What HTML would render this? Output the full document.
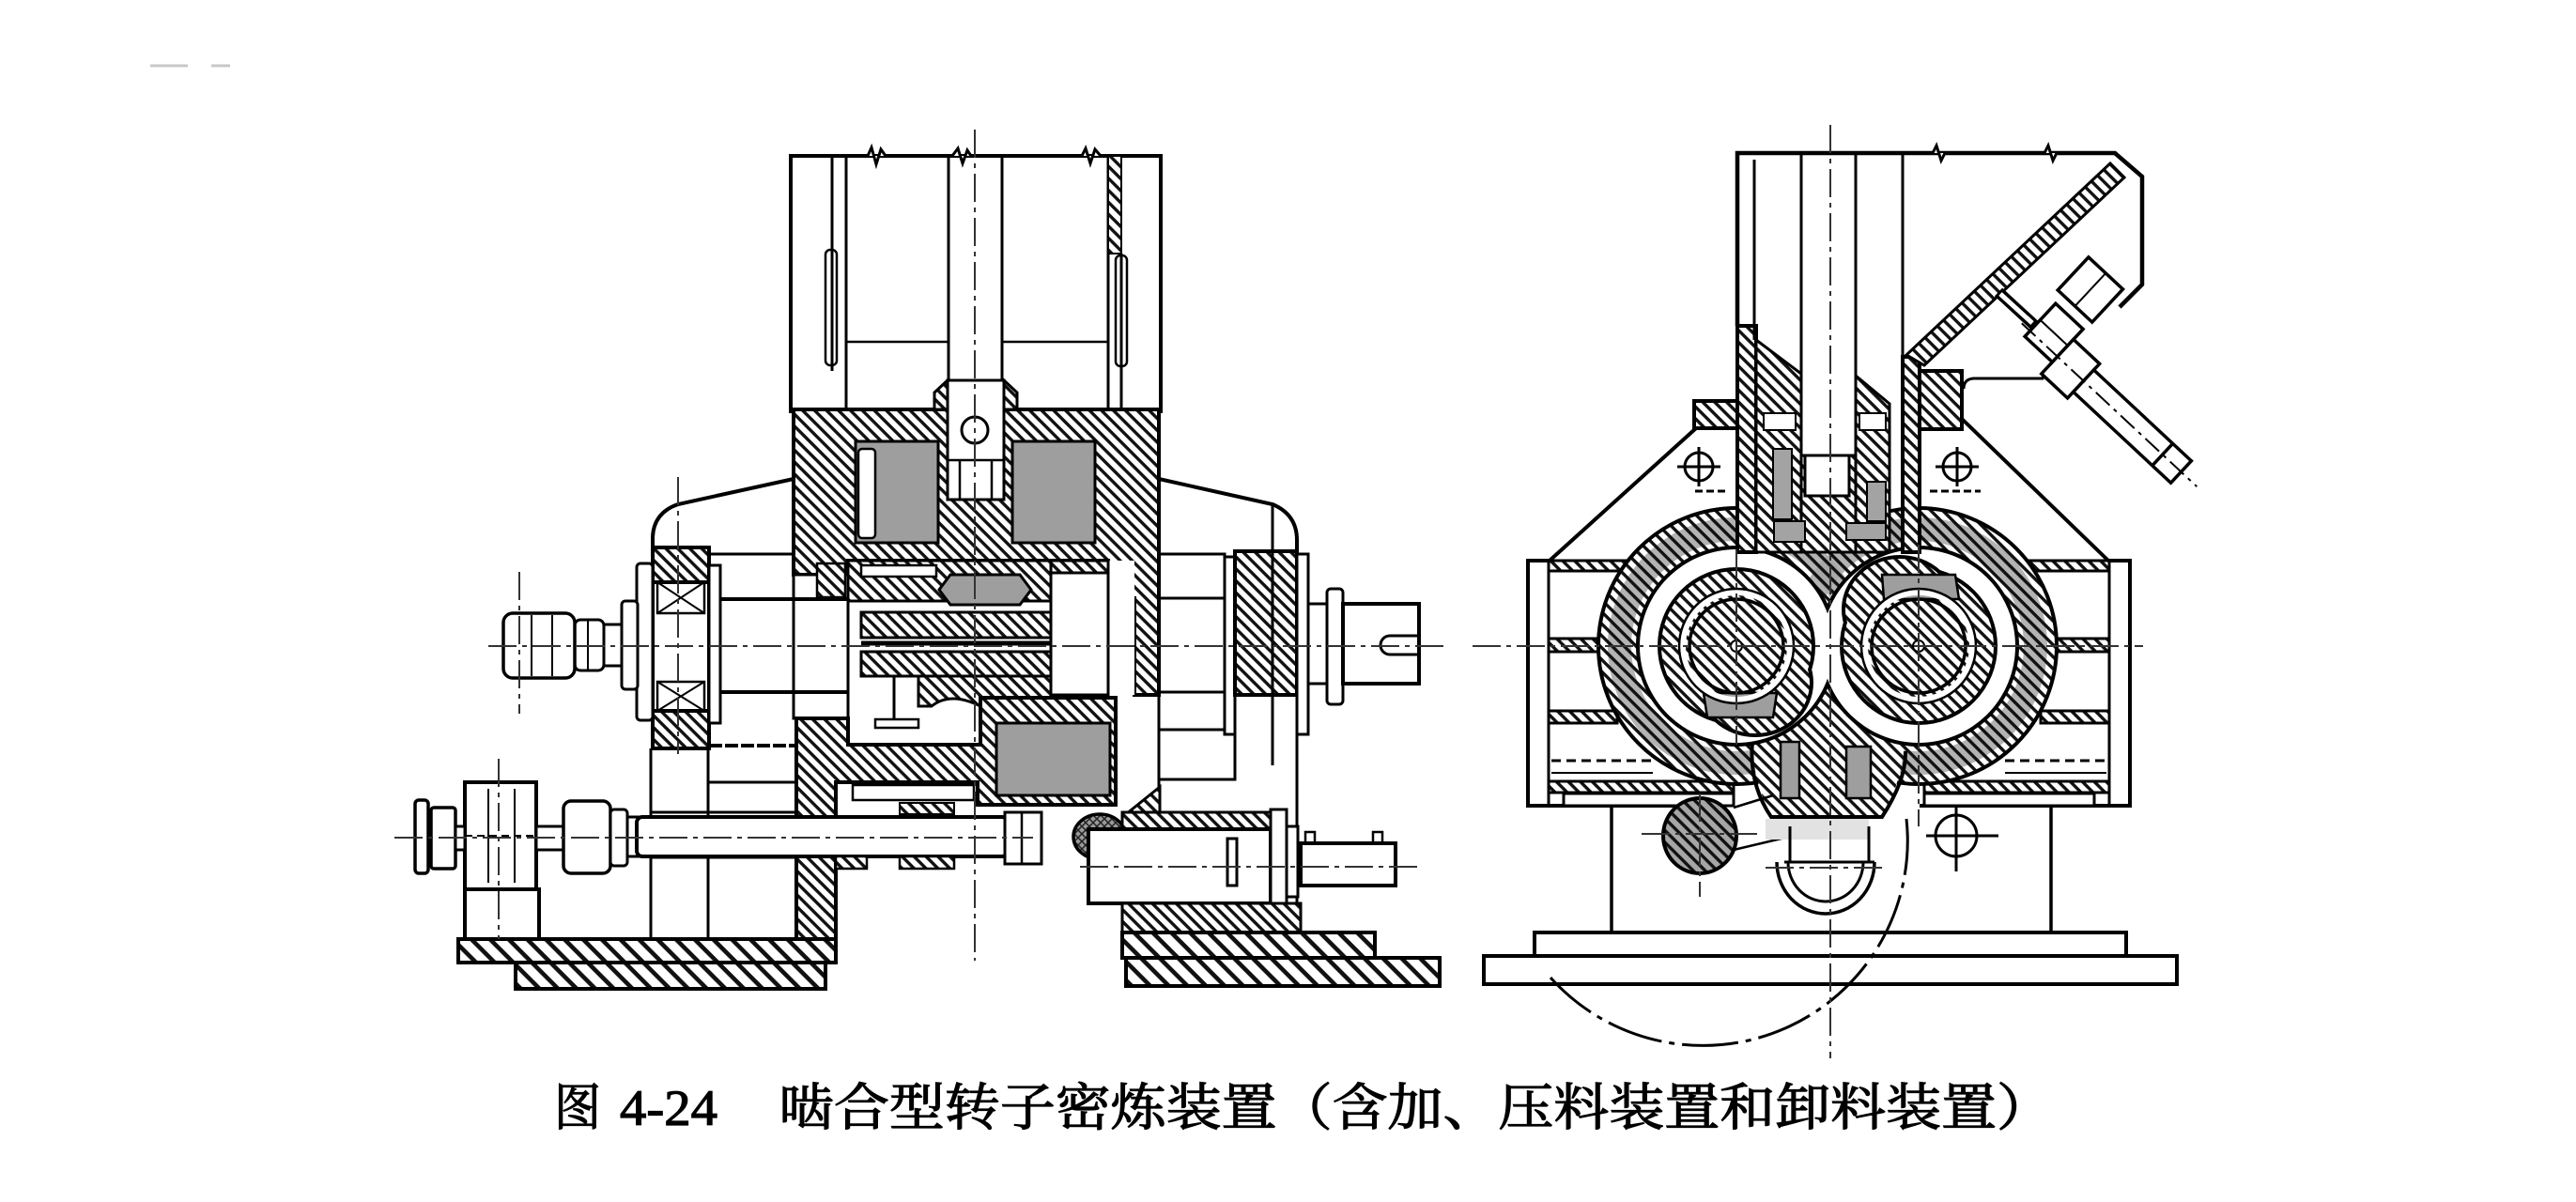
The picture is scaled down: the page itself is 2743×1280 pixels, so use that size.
<!DOCTYPE html>
<html><head><meta charset="utf-8">
<style>html,body{margin:0;padding:0;background:#fff}svg{display:block}</style>
</head><body>
<svg width="2743" height="1280" viewBox="0 0 2743 1280" xmlns="http://www.w3.org/2000/svg">
<defs>
 <pattern id="h" width="9" height="9" patternUnits="userSpaceOnUse" patternTransform="rotate(45)">
  <rect width="9" height="9" fill="#fff"/><rect width="9" height="3.4" fill="#111"/>
 </pattern>
 <pattern id="hb" width="14" height="14" patternUnits="userSpaceOnUse" patternTransform="rotate(45)">
  <rect width="14" height="14" fill="#fff"/><rect width="14" height="4.6" fill="#111"/>
 </pattern>
 <pattern id="hg" width="9" height="9" patternUnits="userSpaceOnUse" patternTransform="rotate(45)">
  <rect width="9" height="9" fill="#a6a6a6"/><rect width="9" height="3.4" fill="#111"/>
 </pattern>
 <pattern id="xk" width="8" height="8" patternUnits="userSpaceOnUse">
  <rect width="8" height="8" fill="#9a9a9a"/><path d="M0,0 L8,8 M8,0 L0,8" stroke="#222" stroke-width="1.5"/>
 </pattern>
</defs>
<rect width="2743" height="1280" fill="#fff"/>
<line x1="160" y1="70" x2="200" y2="70" stroke="#c8c8c8" stroke-width="3"/>
<line x1="225" y1="70" x2="245" y2="70" stroke="#c8c8c8" stroke-width="3"/>

<!-- ================= LEFT DRAWING ================= -->
<g stroke="#000" stroke-width="4" fill="none">
 <path d="M845,510 L722,537 Q696,546 695,572 L695,585"/>
 <path d="M1234,510 L1355,537 Q1381,548 1381,575 L1381,590"/>
 <rect x="842" y="166" width="394" height="272" fill="#fff"/>
 <path d="M914,166 L924,166 L928,157 L933,175 L938,159 L943,166" stroke-width="3" fill="#fff"/>
 <path d="M1014,166 L1020,158 L1025,174 L1030,160 L1034,166" stroke-width="3" fill="#fff"/>
 <path d="M1144,166 L1152,166 L1156,158 L1161,174 L1166,159 L1172,166" stroke-width="3" fill="#fff"/>
 <line x1="886" y1="166" x2="886" y2="395" stroke-width="3"/>
 <line x1="901" y1="166" x2="901" y2="438" stroke-width="3"/>
 <rect x="879" y="266" width="12" height="123" rx="5" stroke-width="2.5"/>
 <line x1="1010" y1="166" x2="1010" y2="405" stroke-width="3"/>
 <line x1="1067" y1="166" x2="1067" y2="405" stroke-width="3"/>
 <line x1="1180" y1="166" x2="1180" y2="438" stroke-width="3"/>
 <line x1="1194" y1="270" x2="1194" y2="438" stroke-width="3"/>
 <rect x="1180" y="166" width="14" height="104" fill="url(#h)" stroke-width="2"/>
 <rect x="1188" y="272" width="12" height="118" rx="5" stroke-width="2.5"/>
 <line x1="901" y1="364" x2="1010" y2="364" stroke-width="2.5"/>
 <line x1="1067" y1="364" x2="1180" y2="364" stroke-width="2.5"/>

 <path fill="url(#h)" d="M845,436 H1234 V740 H1208 V637 H1180 V597 H903 V612 H845 Z"/>
 <rect x="911" y="470" width="88" height="108" fill="#9e9e9e" stroke-width="3"/>
 <rect x="914" y="478" width="18" height="95" rx="4" fill="#fff" stroke-width="2.5"/>
 <rect x="1078" y="470" width="88" height="108" fill="#9e9e9e" stroke-width="3"/>
 <rect x="1009" y="405" width="60" height="127" fill="#fff" stroke-width="3"/>
 <circle cx="1038" cy="458" r="14" stroke-width="3"/>
 <path d="M1022,490 V532 M1056,490 V532 M1009,490 H1069" stroke-width="2.5"/>
 <path fill="url(#h)" d="M995,418 L1009,405 V436 H995 Z M1069,405 L1083,418 V436 H1069 Z" stroke-width="3"/>

 <rect x="845" y="612" width="58" height="153" fill="#fff" stroke-width="3"/>
 <rect x="870" y="600" width="30" height="36" fill="url(#h)" stroke-width="2.5"/>

 <rect x="903" y="597" width="305" height="143" fill="#fff" stroke="none"/>
 <rect x="903" y="597" width="216" height="43" fill="url(#h)" stroke-width="3"/>
 <rect x="1119" y="597" width="61" height="13" fill="url(#h)" stroke-width="3"/>
 <rect x="917" y="602" width="80" height="12" fill="#fff" stroke-width="2.5"/>
 <path d="M1012,612 H1086 L1098,628 L1086,644 H1012 L1000,628 Z" fill="#9e9e9e" stroke-width="3"/>
 <rect x="1119" y="610" width="61" height="130" fill="#fff" stroke-width="3"/>
 <rect x="917" y="652" width="202" height="27" fill="url(#h)" stroke-width="3"/>
 <line x1="917" y1="685" x2="1119" y2="685" stroke-width="5"/>
 <rect x="917" y="694" width="202" height="26" fill="url(#h)" stroke-width="3"/>
 <path d="M978,720 H1119 V752 H1044 Q1012,736 992,752 H978 Z" fill="url(#h)" stroke-width="3"/>
 <line x1="952" y1="720" x2="952" y2="767" stroke-width="3"/>
 <rect x="932" y="766" width="46" height="9" stroke-width="2.5"/>
 <line x1="903" y1="597" x2="903" y2="793" stroke-width="3"/>
 <line x1="1208" y1="740" x2="1234" y2="740" stroke-width="3"/>

 <path fill="url(#h)" d="M848,765 H903 V793 H1044 V743 H1188 V857 H1041 V833 H890 V1000 H848 Z"/>
 <rect x="1061" y="770" width="121" height="77" fill="#9e9e9e" stroke-width="3"/>
 <rect x="908" y="836" width="129" height="16" stroke-width="2.5"/>
 <rect x="958" y="855" width="58" height="12" fill="url(#h)" stroke-width="2"/>
 <line x1="1234" y1="740" x2="1234" y2="838" stroke-width="3"/>
 <polygon points="1199,867 1235,838 1235,867" fill="url(#h)" stroke-width="3"/>

 <rect x="695" y="583" width="60" height="214" fill="#fff"/>
 <rect x="695" y="583" width="60" height="37" fill="url(#h)"/>
 <rect x="695" y="757" width="60" height="40" fill="url(#h)"/>
 <rect x="700" y="620" width="50" height="33" stroke-width="2.5"/>
 <path d="M700,620 L750,653 M750,620 L700,653" stroke-width="2"/>
 <rect x="700" y="726" width="50" height="31" stroke-width="2.5"/>
 <path d="M700,726 L750,757 M750,726 L700,757" stroke-width="2"/>
 <rect x="755" y="602" width="12" height="168" fill="#fff" stroke-width="3"/>
 <rect x="678" y="600" width="17" height="167" rx="4" fill="#fff" stroke-width="3"/>
 <line x1="767" y1="638" x2="903" y2="638"/>
 <line x1="767" y1="737" x2="903" y2="737"/>
 <line x1="755" y1="590" x2="845" y2="590" stroke-width="3"/>
 <line x1="755" y1="794" x2="848" y2="794" stroke-width="4" stroke-dasharray="14 3"/>
 <line x1="754" y1="833" x2="848" y2="833" stroke-width="3"/>
 <line x1="693" y1="865" x2="848" y2="865" stroke-width="3"/>
 <line x1="693" y1="913" x2="848" y2="913" stroke-width="3"/>
 <line x1="693" y1="797" x2="693" y2="1000" stroke-width="3"/>
 <line x1="754" y1="797" x2="754" y2="1000" stroke-width="3"/>
 <rect x="662" y="640" width="17" height="94" rx="4" fill="#fff" stroke-width="3"/>
 <rect x="643" y="665" width="19" height="44" fill="#fff" stroke-width="3"/>
 <rect x="612" y="660" width="31" height="54" rx="6" fill="#fff" stroke-width="3"/>
 <line x1="626" y1="660" x2="626" y2="714" stroke-width="2"/>
 <rect x="536" y="653" width="76" height="69" rx="10" fill="#fff" stroke-width="3.5"/>
 <line x1="566" y1="655" x2="566" y2="720" stroke-width="2"/>
 <line x1="588" y1="655" x2="588" y2="720" stroke-width="2"/>

 <rect x="1234" y="590" width="70" height="47" stroke-width="3"/>
 <line x1="1234" y1="737" x2="1304" y2="737" stroke-width="3"/>
 <line x1="1234" y1="777" x2="1304" y2="777" stroke-width="3"/>
 <path d="M1234,830 H1315 V782" stroke-width="3"/>
 <rect x="1304" y="593" width="11" height="189" fill="#fff" stroke-width="3"/>
 <rect x="1315" y="587" width="66" height="153" fill="url(#h)"/>
 <rect x="1381" y="590" width="12" height="192" fill="#fff" stroke-width="3"/>
 <rect x="1393" y="643" width="20" height="85" fill="#fff" stroke-width="3"/>
 <rect x="1413" y="627" width="17" height="123" rx="4" fill="#fff" stroke-width="3"/>
 <rect x="1430" y="643" width="81" height="85" fill="#fff"/>
 <path d="M1511,677 H1480 A10,10 0 0 0 1480,697 H1511" stroke-width="3"/>
 <line x1="1355" y1="537" x2="1355" y2="815" stroke-width="3"/>
 <line x1="1381" y1="782" x2="1381" y2="993" stroke-width="3"/>

 <rect x="495" y="947" width="79" height="53" fill="#fff"/>
 <rect x="495" y="833" width="76" height="114" fill="#fff"/>
 <line x1="495" y1="890" x2="571" y2="890" stroke-width="2" stroke-dasharray="8 5"/>
 <line x1="520" y1="840" x2="520" y2="940" stroke-width="2"/>
 <line x1="548" y1="840" x2="548" y2="940" stroke-width="2"/>
 <rect x="442" y="852" width="14" height="78" rx="4" fill="#fff" stroke-width="3.5"/>
 <rect x="459" y="860" width="26" height="65" rx="3" fill="#fff" stroke-width="3.5"/>
 <rect x="485" y="880" width="10" height="25" fill="#fff" stroke-width="3"/>
 <rect x="571" y="880" width="29" height="25" fill="#fff" stroke-width="3"/>
 <rect x="600" y="853" width="50" height="77" rx="8" fill="#fff" stroke-width="3.5"/>
 <rect x="650" y="862" width="18" height="60" rx="4" fill="#fff" stroke-width="3"/>
 <rect x="668" y="870" width="12" height="42" fill="#fff" stroke-width="3"/>
 <rect x="678" y="870" width="395" height="42" rx="6" fill="#fff"/>
 <rect x="890" y="912" width="33" height="13" fill="url(#h)" stroke-width="2.5"/>
 <rect x="958" y="912" width="58" height="13" fill="url(#h)" stroke-width="2.5"/>
 <rect x="1070" y="865" width="39" height="55" fill="#fff" stroke-width="3"/>
 <line x1="1088" y1="865" x2="1088" y2="920" stroke-width="2.5"/>
 <ellipse cx="1171" cy="891" rx="28" ry="24" fill="url(#xk)" stroke-width="3.5"/>
 <rect x="1195" y="865" width="158" height="18" fill="url(#h)" stroke-width="3"/>
 <rect x="1159" y="883" width="194" height="79" fill="#fff"/>
 <rect x="1307" y="893" width="10" height="50" fill="#fff" stroke-width="3"/>
 <rect x="1353" y="862" width="17" height="103" fill="#fff" stroke-width="3"/>
 <rect x="1370" y="880" width="12" height="75" fill="#fff" stroke-width="3"/>
 <rect x="1385" y="898" width="101" height="45" fill="#fff"/>
 <rect x="1390" y="886" width="10" height="12" stroke-width="2.5"/>
 <rect x="1462" y="886" width="10" height="12" stroke-width="2.5"/>
 <rect x="1195" y="962" width="190" height="31" fill="url(#h)" stroke-width="3"/>
 <rect x="488" y="1000" width="402" height="25" fill="url(#hb)"/>
 <rect x="549" y="1025" width="330" height="28" fill="url(#hb)"/>
 <rect x="1195" y="993" width="269" height="27" fill="url(#hb)"/>
 <rect x="1199" y="1020" width="334" height="30" fill="url(#hb)"/>
</g>
<g stroke="#333" stroke-width="2" fill="none" stroke-dasharray="30 6 5 6">
 <line x1="1038" y1="138" x2="1038" y2="1023"/>
 <line x1="520" y1="688" x2="1540" y2="688"/>
 <line x1="553" y1="609" x2="553" y2="760"/>
 <line x1="722" y1="508" x2="722" y2="803"/>
 <line x1="420" y1="892" x2="1100" y2="892"/>
 <line x1="531" y1="808" x2="531" y2="1000"/>
 <line x1="1150" y1="923" x2="1515" y2="923"/>
</g>

<!-- ================= RIGHT DRAWING ================= -->
<g stroke="#000" stroke-width="4" fill="none">
 <line x1="1716" y1="858" x2="1716" y2="993" stroke-width="3.5"/>
 <line x1="2184" y1="858" x2="2184" y2="993" stroke-width="3.5"/>
 <rect x="1634" y="993" width="630" height="25" fill="#fff"/>
 <rect x="1580" y="1018" width="738" height="30" fill="#fff"/>
 <path d="M1651,597 H1627 V858 H1782"/>
 <line x1="1649" y1="597" x2="1649" y2="858" stroke-width="3"/>
 <path d="M2244,597 H2268 V858 H2044"/>
 <line x1="2246" y1="597" x2="2246" y2="858" stroke-width="3"/>
 <rect x="1649" y="597" width="96" height="11" fill="url(#h)" stroke-width="3"/>
 <rect x="1649" y="680" width="63" height="14" fill="url(#h)" stroke-width="3"/>
 <rect x="1649" y="757" width="73" height="13" fill="url(#h)" stroke-width="3"/>
 <rect x="1649" y="832" width="197" height="12" fill="url(#h)" stroke-width="3"/>
 <rect x="1665" y="845" width="181" height="13" fill="#fff" stroke-width="3"/>
 <rect x="2150" y="597" width="96" height="11" fill="url(#h)" stroke-width="3"/>
 <rect x="2183" y="680" width="63" height="14" fill="url(#h)" stroke-width="3"/>
 <rect x="2173" y="757" width="73" height="13" fill="url(#h)" stroke-width="3"/>
 <rect x="2049" y="832" width="197" height="12" fill="url(#h)" stroke-width="3"/>
 <rect x="2049" y="845" width="181" height="13" fill="#fff" stroke-width="3"/>
 <g stroke-width="3" stroke-dasharray="10 6">
  <line x1="1652" y1="810" x2="1760" y2="810"/>
  <line x1="2135" y1="810" x2="2243" y2="810"/>
 </g>
 <line x1="1652" y1="823" x2="1760" y2="823" stroke-width="2"/>
 <line x1="2135" y1="823" x2="2243" y2="823" stroke-width="2"/>
 <line x1="1806" y1="456" x2="1650" y2="597"/>
 <line x1="2089" y1="446" x2="2245" y2="597"/>

 <circle cx="1849" cy="688" r="145" stroke-width="8"/>
 <circle cx="2043" cy="688" r="145" stroke-width="8"/>
 <path fill="url(#h)" stroke="none" d="M1704,688 a145,145 0 1,0 290,0 a145,145 0 1,0 -290,0 Z M1898,688 a145,145 0 1,0 290,0 a145,145 0 1,0 -290,0 Z"/>
 <path fill="url(#hg)" stroke="none" fill-rule="evenodd" opacity="0.85" d="M1712,688 a137,137 0 1,0 274,0 a137,137 0 1,0 -274,0 Z M1737,688 a112,112 0 1,0 224,0 a112,112 0 1,0 -224,0 Z"/>
 <path fill="url(#hg)" stroke="none" fill-rule="evenodd" opacity="0.85" d="M1906,688 a137,137 0 1,0 274,0 a137,137 0 1,0 -274,0 Z M1931,688 a112,112 0 1,0 224,0 a112,112 0 1,0 -224,0 Z"/>

 <path fill="url(#h)" stroke="none" d="M1866,740 Q1860,820 1886,870 H2004 Q2032,825 2030,740 Z"/>
 <path d="M1866,790 Q1862,835 1886,870 H2004 Q2030,830 2029,800"/>
 <rect x="1896" y="790" width="20" height="60" fill="#9e9e9e" stroke-width="2.5"/>
 <rect x="1966" y="795" width="26" height="55" fill="#9e9e9e" stroke-width="2.5"/>

 <circle cx="1849" cy="688" r="103" stroke-width="8"/>
 <circle cx="2043" cy="688" r="103" stroke-width="8"/>
 <path fill="#fff" stroke="none" d="M1746,688 a103,103 0 1,0 206,0 a103,103 0 1,0 -206,0 Z M1940,688 a103,103 0 1,0 206,0 a103,103 0 1,0 -206,0 Z"/>

 <circle cx="1849" cy="688" r="80" stroke-width="8"/>
 <ellipse cx="1869" cy="727" rx="58" ry="54" stroke-width="8"/>
 <circle cx="1849" cy="688" r="80" fill="url(#h)" stroke="none"/>
 <ellipse cx="1869" cy="727" rx="58" ry="54" fill="url(#h)" stroke="none"/>
 <path d="M1814,738 H1892 L1888,764 H1818 Z" fill="#9e9e9e" stroke-width="2.5"/>
 <circle cx="2043" cy="688" r="80" stroke-width="8"/>
 <ellipse cx="2023" cy="649" rx="58" ry="54" stroke-width="8"/>
 <circle cx="2043" cy="688" r="80" fill="url(#h)" stroke="none"/>
 <ellipse cx="2023" cy="649" rx="58" ry="54" fill="url(#h)" stroke="none"/>
 <path d="M2004,612 H2082 L2086,638 H2006 Z" fill="#9e9e9e" stroke-width="2.5"/>
 <circle cx="1849" cy="688" r="57" stroke="#fff" stroke-width="6"/>
 <circle cx="1849" cy="688" r="50" fill="url(#h)" stroke-width="3.5"/>
 <circle cx="1849" cy="688" r="61" stroke-width="2.5"/>
 <circle cx="2043" cy="688" r="57" stroke="#fff" stroke-width="6"/>
 <circle cx="2043" cy="688" r="50" fill="url(#h)" stroke-width="3.5"/>
 <circle cx="2043" cy="688" r="61" stroke-width="2.5"/>
 <circle cx="1849" cy="688" r="6" fill="#fff" stroke-width="2"/>
 <circle cx="2043" cy="688" r="6" fill="#fff" stroke-width="2"/>

 <rect x="1850" y="347" width="20" height="241" fill="url(#h)"/>
 <path d="M1870,362 L1918,398 V588 H1870 Z" fill="url(#h)" stroke-width="3"/>
 <rect x="1918" y="485" width="58" height="103" fill="url(#h)" stroke-width="3"/>
 <rect x="1922" y="485" width="47" height="43" fill="#fff" stroke-width="3"/>
 <path d="M1976,400 L2012,430 V588 H1976 Z" fill="url(#h)" stroke-width="3"/>
 <rect x="2026" y="380" width="18" height="208" fill="url(#h)"/>
 <rect x="1878" y="440" width="34" height="18" fill="#fff" stroke-width="2"/>
 <rect x="1980" y="440" width="28" height="18" fill="#fff" stroke-width="2"/>
 <rect x="1888" y="478" width="20" height="75" fill="#a3a3a3" stroke-width="2"/>
 <rect x="1889" y="555" width="33" height="22" fill="#a3a3a3" stroke-width="2"/>
 <rect x="1988" y="513" width="20" height="42" fill="#a3a3a3" stroke-width="2"/>
 <rect x="1966" y="557" width="42" height="18" fill="#a3a3a3" stroke-width="2"/>
 <rect x="1804" y="427" width="46" height="29" fill="url(#h)"/>
 <rect x="2044" y="395" width="45" height="62" fill="url(#h)"/>

 <path d="M1850,347 V163 H2252 L2281,188 V303 L2257,327" stroke-width="4.5"/>
 <line x1="1868" y1="170" x2="1868" y2="362" stroke-width="3"/>
 <line x1="1918" y1="163" x2="1918" y2="485" stroke-width="3"/>
 <line x1="1976" y1="163" x2="1976" y2="485" stroke-width="3"/>
 <line x1="2026" y1="163" x2="2026" y2="380" stroke-width="3"/>
 <path d="M2058,163 L2062,155 L2067,171 L2071,163" stroke-width="3" fill="#fff"/>
 <path d="M2177,163 L2181,155 L2186,171 L2190,163" stroke-width="3" fill="#fff"/>
 <path d="M2177,394 L2175,403 H2101 Q2091,404 2091,414" stroke-width="3"/>
 <polygon points="2030,378 2247,174 2262,189 2049,389" fill="url(#h)" stroke-width="3"/>
 <line x1="2128" y1="311" x2="2166" y2="346" stroke-width="12"/>
 <line x1="2130" y1="313" x2="2164" y2="344" stroke="#fff" stroke-width="5"/>
 <g transform="translate(2204,392) rotate(43)" stroke-width="3.5">
  <rect x="-66" y="-100" width="50" height="48" fill="#fff"/>
  <line x1="-41" y1="-100" x2="-41" y2="-52" stroke-width="2"/>
  <rect x="-58" y="-40" width="40" height="48" fill="#fff"/>
  <line x1="-58" y1="-16" x2="-18" y2="-16" stroke-width="2"/>
  <rect x="-18" y="-25" width="38" height="50" fill="#fff"/>
  <rect x="20" y="-16" width="142" height="32" fill="#fff"/>
  <line x1="135" y1="-16" x2="135" y2="16"/>
  <line x1="-70" y1="0" x2="185" y2="0" stroke-width="2" stroke-dasharray="20 6 4 6"/>
 </g>

 <ellipse cx="1810" cy="890" rx="39" ry="40" fill="url(#hg)"/>
 <path d="M1846,860 L1888,847 M1846,905 L1935,884" stroke-width="2.5"/>
 <rect x="1880" y="872" width="110" height="22" fill="#e2e2e2" stroke="none"/>
 <path d="M1906,880 V918 M1990,880 V918 M1900,918 H1996" stroke-width="3"/>
 <path d="M1892,918 A52,55 0 0 0 1996,918" stroke-width="3.5"/>
 <path d="M1904,918 A40,42 0 0 0 1984,918" stroke-width="3"/>
 <path d="M2030,872 A218,218 0 0 1 1651,1041" stroke-width="3" stroke-dasharray="60 8 6 8"/>
</g>
<g stroke="#333" stroke-width="2" fill="none" stroke-dasharray="30 6 5 6">
 <line x1="1949" y1="133" x2="1949" y2="1127"/>
 <line x1="1568" y1="688" x2="2282" y2="688"/>
 <line x1="1849" y1="585" x2="1849" y2="793"/>
 <line x1="2043" y1="580" x2="2043" y2="880"/>
 <line x1="1748" y1="888" x2="1871" y2="888"/>
 <line x1="1810" y1="845" x2="1810" y2="955"/>
 <line x1="1880" y1="924" x2="2010" y2="924"/>
</g>
<g stroke="#000" stroke-width="3" fill="none">
 <circle cx="1809" cy="497" r="15"/>
 <path d="M1786,497 H1832 M1809,476 V518"/>
 <circle cx="2084" cy="497" r="15"/>
 <path d="M2061,497 H2107 M2084,476 V518"/>
 <circle cx="2083" cy="890" r="22"/>
 <path d="M2051,890 H2128 M2083,857 V928"/>
 <path d="M1805,523 H1840 M2055,523 H2109" stroke-dasharray="8 4"/>
</g>

<!-- caption -->
<g fill="#000" stroke="#000" stroke-width="1.2" font-size="54">
 <text x="590" y="1198" font-family="'Liberation Serif','Noto Serif CJK SC',serif" textLength="50" lengthAdjust="spacingAndGlyphs">图</text>
 <text x="660" y="1198" font-family="'Liberation Serif',serif" textLength="104" lengthAdjust="spacingAndGlyphs">4-24</text>
 <text x="829" y="1198" font-family="'Liberation Serif','Noto Serif CJK SC',serif" textLength="1356" lengthAdjust="spacingAndGlyphs">啮合型转子密炼装置（含加、压料装置和卸料装置）</text>
</g>
</svg>
</body></html>
